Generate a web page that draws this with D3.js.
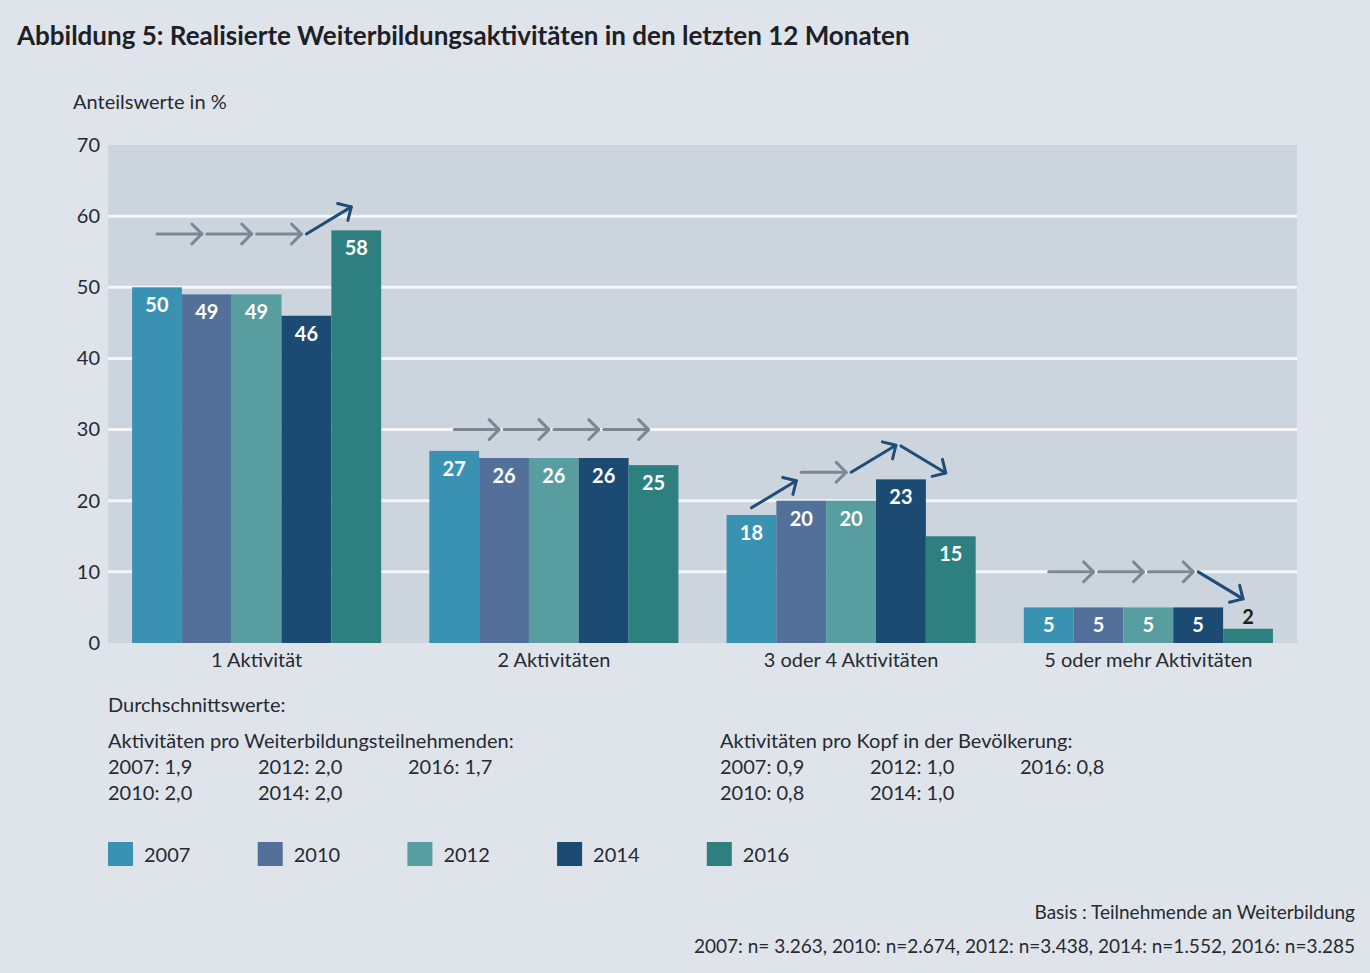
<!DOCTYPE html>
<html>
<head>
  <meta charset="utf-8">
  <title>Abbildung 5</title>
  <script type="text/javascript" src="https://cdn.jsdelivr.net/npm/d3@7/dist/d3.min.js"></script>
  <style>
    body { margin: 0; background: #dfe4eb; }
    text { font-family: Lato, "Open Sans", sans-serif; fill: #262a30; }
  </style>
</head>
<body>
  <svg id="chart"></svg>
  <script>
    // data
    var categories = ["1 Aktivität", "2 Aktivitäten", "3 oder 4 Aktivitäten", "5 oder mehr Aktivitäten"];
    var years = ["2007", "2010", "2012", "2014", "2016"];
    var values2007 = [50, 27, 18, 5];
    var values2010 = [49, 26, 20, 5];
    var values2012 = [49, 26, 20, 5];
    var values2014 = [46, 26, 23, 5];
    var values2016 = [58, 25, 15, 2];
    var yearColors = ["#3a92b3", "#52709a", "#589ea1", "#1b4a73", "#2d7f80"];
    var yTicks = [0, 10, 20, 30, 40, 50, 60, 70];

    // trend arrows between successive surveys: 0 = unchanged, 1 = up, -1 = down
    var trends = [[0, 0, 0, 1], [0, 0, 0, 0], [1, 0, 1, -1], [0, 0, 0, -1]];
    // level (in %) where each arrow starts
    var arrowLevels = [[57.5, 57.5, 57.5, 57.5], [30, 30, 30, 30], [19, 24, 24, 27.7], [10, 10, 10, 10]];

    var avgTitle = "Durchschnittswerte:";
    var avgHeadLeft = "Aktivitäten pro Weiterbildungsteilnehmenden:";
    var avgLeft = [["2007: 1,9", "2012: 2,0", "2016: 1,7"], ["2010: 2,0", "2014: 2,0"]];
    var avgHeadRight = "Aktivitäten pro Kopf in der Bevölkerung:";
    var avgRight = [["2007: 0,9", "2012: 1,0", "2016: 0,8"], ["2010: 0,8", "2014: 1,0"]];

    var series = [values2007, values2010, values2012, values2014, values2016];

    var width = 1370, height = 973;
    var svg = d3.select("#chart").attr("width", width).attr("height", height);

    svg.append("rect").attr("width", width).attr("height", height).attr("fill", "#dfe4eb");

    var plot = { left: 108, right: 1297, top: 145, bottom: 643 };

    var x = d3.scaleBand()
        .domain(categories)
        .range([plot.left, plot.right])
        .paddingInner(0.162)
        .paddingOuter(0.081);
    var xYear = d3.scaleBand()
        .domain(years)
        .range([0, x.bandwidth()]);
    var y = d3.scaleLinear()
        .domain([0, 70])
        .range([plot.bottom, plot.top]);

    // title
    svg.append("text")
        .attr("x", 17).attr("y", 45)
        .attr("font-size", 26).attr("font-weight", 700)
        .style("fill", "#1d2026")
        .text("Abbildung 5: Realisierte Weiterbildungsaktivitäten in den letzten 12 Monaten");

    svg.append("text")
        .attr("x", 73).attr("y", 109)
        .attr("font-size", 20)
        .text("Anteilswerte in %");

    // plot background
    svg.append("rect")
        .attr("x", plot.left).attr("y", plot.top)
        .attr("width", plot.right - plot.left).attr("height", plot.bottom - plot.top)
        .attr("fill", "#ccd4de");

    // gridlines
    svg.append("g")
        .selectAll("line")
        .data(yTicks.filter(function(t) { return t > 0 && t < 70; }))
        .join("line")
        .attr("x1", plot.left).attr("x2", plot.right)
        .attr("y1", function(d) { return y(d); })
        .attr("y2", function(d) { return y(d); })
        .attr("stroke", "#f4f6f9").attr("stroke-width", 3);

    // y axis labels
    var yAxis = svg.append("g")
        .attr("transform", "translate(" + (plot.left - 8) + ",0)")
        .call(d3.axisLeft(y).tickValues(yTicks).tickSize(0).tickPadding(0));
    yAxis.select(".domain").remove();
    yAxis.selectAll("text")
        .attr("font-size", 20)
        .attr("font-family", "Lato, sans-serif")
        .style("fill", "#262a30");

    // x axis labels
    var xAxis = svg.append("g")
        .attr("transform", "translate(0," + plot.bottom + ")")
        .call(d3.axisBottom(x).tickSize(0).tickPadding(10));
    xAxis.select(".domain").remove();
    xAxis.selectAll("text")
        .attr("font-size", 20)
        .attr("font-family", "Lato, sans-serif")
        .style("fill", "#262a30");

    // bars
    var groups = svg.append("g")
        .selectAll("g")
        .data(categories)
        .join("g")
        .attr("transform", function(c) { return "translate(" + x(c) + ",0)"; });

    groups.each(function(c, ci) {
        var g = d3.select(this);
        var rows = years.map(function(yr, yi) { return { year: yr, yi: yi, value: series[yi][ci] }; });

        g.selectAll("rect")
            .data(rows)
            .join("rect")
            .attr("x", function(d) { return xYear(d.year); })
            .attr("y", function(d) { return y(d.value); })
            .attr("width", xYear.bandwidth())
            .attr("height", function(d) { return y(0) - y(d.value); })
            .attr("fill", function(d) { return yearColors[d.yi]; });

        g.selectAll("text.val")
            .data(rows)
            .join("text")
            .attr("class", "val")
            .attr("x", function(d) { return xYear(d.year) + xYear.bandwidth() / 2; })
            .attr("y", function(d) { return d.value < 4 ? y(d.value) - 5 : y(d.value) + 25; })
            .attr("text-anchor", "middle")
            .attr("font-size", 20).attr("font-weight", 700)
            .style("fill", function(d) { return d.value < 4 ? "#1d2026" : "#ffffff"; })
            .text(function(d) { return d.value; });

        // trend arrows
        var arrows = trends[ci].map(function(t, i) {
            var x0 = xYear(years[i]) + xYear.bandwidth() / 2;
            var x1 = xYear(years[i + 1]) + xYear.bandwidth() / 2 - 5;
            var v0 = arrowLevels[ci][i];
            return { x0: x0, x1: x1, y0: y(v0), y1: y(v0 + t * 3.8), t: t };
        });
        var ag = g.selectAll("g.arrow")
            .data(arrows)
            .join("g")
            .attr("class", "arrow")
            .attr("stroke", function(d) { return d.t === 0 ? "#7c8791" : "#1f4d78"; })
            .attr("stroke-width", 3)
            .attr("fill", "none")
            .attr("stroke-linecap", "round")
            .attr("stroke-linejoin", "round");
        ag.append("line")
            .attr("x1", function(d) { return d.x0; })
            .attr("y1", function(d) { return d.y0; })
            .attr("x2", function(d) { return d.x1; })
            .attr("y2", function(d) { return d.y1; });
        ag.append("path")
            .attr("d", function(d) {
                var a = Math.atan2(d.y1 - d.y0, d.x1 - d.x0);
                var len = 14, spread = Math.PI / 4;
                var p1 = [d.x1 - len * Math.cos(a - spread), d.y1 - len * Math.sin(a - spread)];
                var p2 = [d.x1 - len * Math.cos(a + spread), d.y1 - len * Math.sin(a + spread)];
                return "M" + p1 + "L" + [d.x1, d.y1] + "L" + p2;
            });
    });

    // averages block
    var fs = 20;
    svg.append("text").attr("x", 108).attr("y", 712).attr("font-size", fs).text(avgTitle);

    function avgBlock(x0, head, rows) {
        svg.append("text").attr("x", x0).attr("y", 748).attr("font-size", fs).text(head);
        rows.forEach(function(row, ri) {
            svg.append("g").selectAll("text")
                .data(row)
                .join("text")
                .attr("x", function(d, i) { return x0 + i * 150; })
                .attr("y", 774 + ri * 26)
                .attr("font-size", fs)
                .text(function(d) { return d; });
        });
    }
    avgBlock(108, avgHeadLeft, avgLeft);
    avgBlock(720, avgHeadRight, avgRight);

    // legend
    var legend = svg.append("g")
        .selectAll("g")
        .data(years)
        .join("g")
        .attr("transform", function(d, i) { return "translate(" + (108 + i * 149.7) + ",842)"; });
    legend.append("rect")
        .attr("width", 25).attr("height", 24)
        .attr("fill", function(d, i) { return yearColors[i]; });
    legend.append("text")
        .attr("x", 36).attr("y", 20)
        .attr("font-size", fs)
        .text(function(d) { return d; });

    // source notes
    svg.append("text")
        .attr("x", 1355).attr("y", 919)
        .attr("text-anchor", "end").attr("font-size", 19)
        .text("Basis : Teilnehmende an Weiterbildung");
    svg.append("text")
        .attr("x", 1355).attr("y", 953)
        .attr("text-anchor", "end").attr("font-size", 19)
        .text("2007: n= 3.263, 2010: n=2.674, 2012: n=3.438, 2014: n=1.552, 2016: n=3.285");
  </script>
</body>
</html>
